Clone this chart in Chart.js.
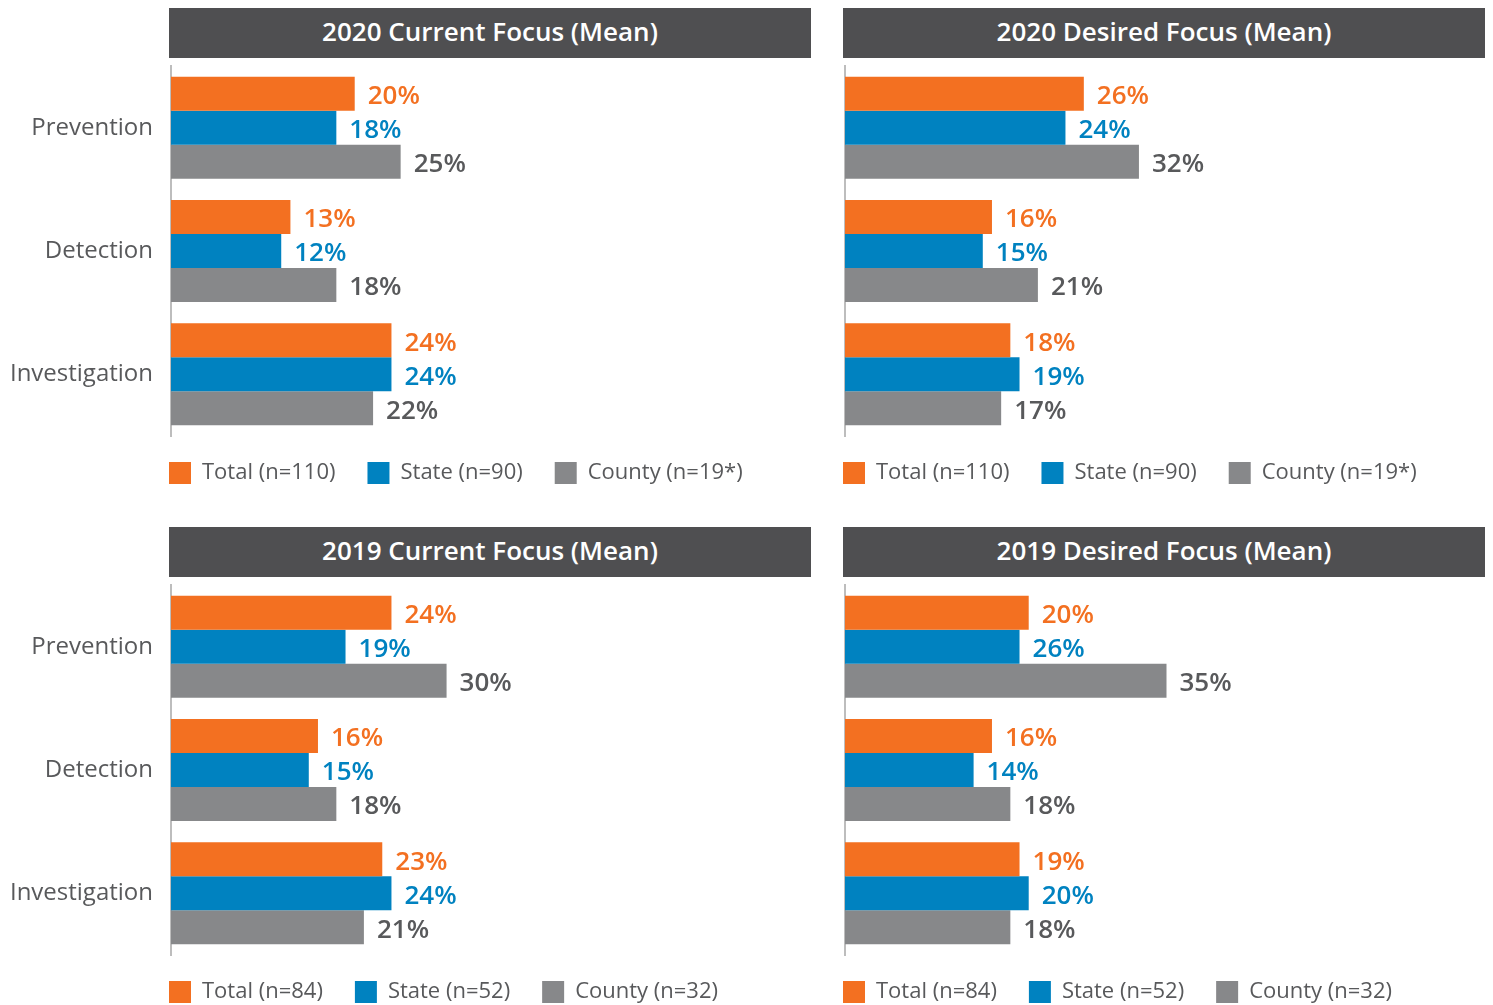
<!DOCTYPE html>
<html>
<head>
<meta charset="utf-8">
<script src="https://cdn.jsdelivr.net/npm/chart.js@4.4.0/dist/chart.umd.min.js"></script>
<style>
  body { margin: 0; background: #fff; width: 1493px; height: 1005px; position: relative; overflow: hidden; font-family: "Open Sans", sans-serif; }
  .head { position: absolute; width: 642px; height: 50px; line-height: 46px; background: #4f4f51; color: #fff; font-weight: 600; font-size: 26px; text-align: center; }
  .wrap { position: absolute; height: 442px; }
</style>
</head>
<body>
<div class="head" style="left:169px;top:8px">2020 Current Focus (Mean)</div>
<div class="head" style="left:843px;top:8px">2020 Desired Focus (Mean)</div>
<div class="head" style="left:169px;top:527px">2019 Current Focus (Mean)</div>
<div class="head" style="left:843px;top:527px">2019 Desired Focus (Mean)</div>

<div class="wrap" style="left:0;top:58px;width:814px"><canvas id="c2020cur"></canvas></div>
<div class="wrap" style="left:815px;top:58px;width:678px"><canvas id="c2020des"></canvas></div>
<div class="wrap" style="left:0;top:577px;width:814px"><canvas id="c2019cur"></canvas></div>
<div class="wrap" style="left:815px;top:577px;width:678px"><canvas id="c2019des"></canvas></div>

<script>
const categories = ['Prevention', 'Detection', 'Investigation']
const series2020 = ['Total (n=110)', 'State (n=90)', 'County (n=19*)']
const series2019 = ['Total (n=84)', 'State (n=52)', 'County (n=32)']

const cur2020Total = [20, 13, 24]
const cur2020State = [18, 12, 24]
const cur2020County = [25, 18, 22]

const des2020Total = [26, 16, 18]
const des2020State = [24, 15, 19]
const des2020County = [32, 21, 17]

const cur2019Total = [24, 16, 23]
const cur2019State = [19, 15, 24]
const cur2019County = [30, 18, 21]

const des2019Total = [20, 16, 19]
const des2019State = [19, 14, 20]
// the source prints 26% on the first State bar although the bar is drawn at ~19%
const des2019StateShown = ['26%', '14%', '20%']
const des2019County = [35, 18, 18]

const ORANGE = '#f37021'
const BLUE = '#0082c0'
const GREY = '#87888a'
const TEXT = '#58595b'

Chart.defaults.font.family = '"Open Sans", sans-serif'
Chart.defaults.color = TEXT

// bar end labels
const valueLabels = {
  id: 'valueLabels',
  afterDatasetsDraw(chart) {
    const ctx = chart.ctx
    ctx.save()
    ctx.font = '600 26px "Open Sans", sans-serif'
    ctx.textBaseline = 'middle'
    chart.data.datasets.forEach((ds, i) => {
      chart.getDatasetMeta(i).data.forEach((bar, j) => {
        const txt = ds.shown ? ds.shown[j] : ds.data[j] + '%'
        ctx.fillStyle = ds.labelColor
        ctx.fillText(txt, bar.x + 13, bar.y + 3)
      })
    })
    ctx.restore()
  }
}

// move legend under the plot area instead of the canvas edge
const legendShift = {
  id: 'legendShift',
  beforeDraw(chart) {
    const pad = chart.options.plugins.legend.labels.padding
    chart.legend.left = chart.chartArea.left - 2 - pad
    chart.legend.top = chart.chartArea.bottom - 6
  }
}

function makeChart(id, names, total, state, county, showTicks, stateShown) {
  return new Chart(document.getElementById(id), {
    type: 'bar',
    data: {
      labels: categories,
      datasets: [
        { label: names[0], data: total, backgroundColor: ORANGE, labelColor: ORANGE },
        { label: names[1], data: state, backgroundColor: BLUE, labelColor: BLUE, shown: stateShown },
        { label: names[2], data: county, backgroundColor: GREY, labelColor: TEXT }
      ]
    },
    options: {
      indexAxis: 'y',
      responsive: true,
      maintainAspectRatio: false,
      animation: false,
      datasets: { bar: { barPercentage: 1, categoryPercentage: 0.827, borderWidth: 0 } },
      layout: { padding: { top: 8, right: showTicks ? 0 : 5 } },
      scales: {
        x: { display: false, min: 0, max: 70 },
        y: {
          grid: { display: false, drawTicks: false },
          border: { color: '#bdbdbd', width: 2 },
          ticks: { display: showTicks, padding: 18, color: TEXT, font: { size: 24 } },
          afterFit(scale) {
            scale.width = showTicks ? 171 : 30
            scale.paddingTop = 0
            scale.paddingBottom = 0
          }
        }
      },
      plugins: {
        legend: {
          position: 'bottom',
          align: 'start',
          labels: { boxWidth: 22, boxHeight: 22, padding: 32, color: TEXT, font: { size: 22 } }
        },
        tooltip: { enabled: false }
      }
    },
    plugins: [valueLabels, legendShift]
  })
}

makeChart('c2020cur', series2020, cur2020Total, cur2020State, cur2020County, true)
makeChart('c2020des', series2020, des2020Total, des2020State, des2020County, false)
makeChart('c2019cur', series2019, cur2019Total, cur2019State, cur2019County, true)
makeChart('c2019des', series2019, des2019Total, des2019State, des2019County, false, des2019StateShown)
</script>
</body>
</html>
